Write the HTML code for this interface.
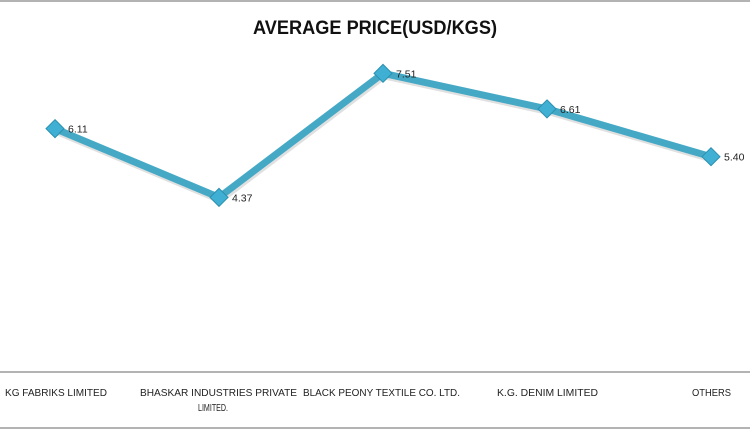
<!DOCTYPE html>
<html><head><meta charset="utf-8">
<style>
html,body{margin:0;padding:0;background:#fff;}
svg{display:block;font-family:"Liberation Sans",sans-serif;}
</style></head>
<body>
<svg id="chart" width="750" height="430" viewBox="0 0 750 430">
  <line x1="0" y1="1" x2="750" y2="1" stroke="#9a9a9a" stroke-width="1.5"/>
  <text x="375" y="34" text-anchor="middle" font-size="19" font-weight="bold" fill="#111" textLength="244" lengthAdjust="spacingAndGlyphs">AVERAGE PRICE(USD/KGS)</text>
  <line x1="0" y1="372" x2="750" y2="372" stroke="#9a9a9a" stroke-width="1.5"/>
  <line x1="0" y1="428" x2="750" y2="428" stroke="#9a9a9a" stroke-width="1.5"/>
  <g id="marks"></g>
</svg>
<script>
const categories = ["KG FABRIKS LIMITED", "BHASKAR INDUSTRIES PRIVATE LIMITED.", "BLACK PEONY TEXTILE CO. LTD.", "K.G. DENIM LIMITED", "OTHERS"];
const catLines = [["KG FABRIKS  LIMITED"], ["BHASKAR INDUSTRIES   PRIVATE", "LIMITED."], ["BLACK PEONY TEXTILE  CO. LTD."], ["K.G. DENIM  LIMITED"], ["OTHERS"]];
const values = [6.11, 4.37, 7.51, 6.61, 5.40];
const valueLabels = ["6.11", "4.37", "7.51", "6.61", "5.40"];

const NS = "http://www.w3.org/2000/svg";
const g = document.getElementById("marks");
function xScale(i){ return 55 + i * 164; }
function yScale(v){ return 370 - v * 39.5; }
function mk(tag, attrs){ const e = document.createElementNS(NS, tag); for (const k in attrs) e.setAttribute(k, attrs[k]); return e; }

// label layout (start x, width) per line
const labelBoxes = [[[5,102]], [[140,157],[198,30]], [[303,157]], [[497,101]], [[692,39]]];
categories.forEach((c, i) => {
  const t = mk("text", {"font-size": "10.5", fill: "#222"});
  
  
  catLines[i].forEach((ln, j) => {
    const b = labelBoxes[i][j];
    const ts = mk("tspan", {x: b[0], y: 396 + j * 15, textLength: b[1], lengthAdjust: "spacingAndGlyphs"});
    ts.textContent = ln;
    t.appendChild(ts);
  });
  g.appendChild(t);
});

const pts = values.map((v, i) => xScale(i) + "," + yScale(v)).join(" ");
const shadow = mk("polyline", {points: pts, fill: "none", stroke: "rgba(0,0,0,0.12)", "stroke-width": "8", "stroke-linejoin": "round", transform: "translate(1,2)"});


g.appendChild(shadow);
const line = mk("polyline", {points: pts, fill: "none", stroke: "#45a9c6", "stroke-width": "7", "stroke-linejoin": "round"});


g.appendChild(line);

values.forEach((v, i) => {
  const x = xScale(i), y = yScale(v);
  const m = mk("polygon", {points: `${x},${y-9} ${x+9},${y} ${x},${y+9} ${x-9},${y}`, fill: "#3fb0d3", stroke: "#2b8fb0", "stroke-width": "1"});
  
  
  g.appendChild(m);
  const t = mk("text", {x: x + 13, y: y + 4, "font-size": "10.5", fill: "#222"});
  
  
  t.textContent = valueLabels[i];
  g.appendChild(t);
});
</script>
</body></html>
